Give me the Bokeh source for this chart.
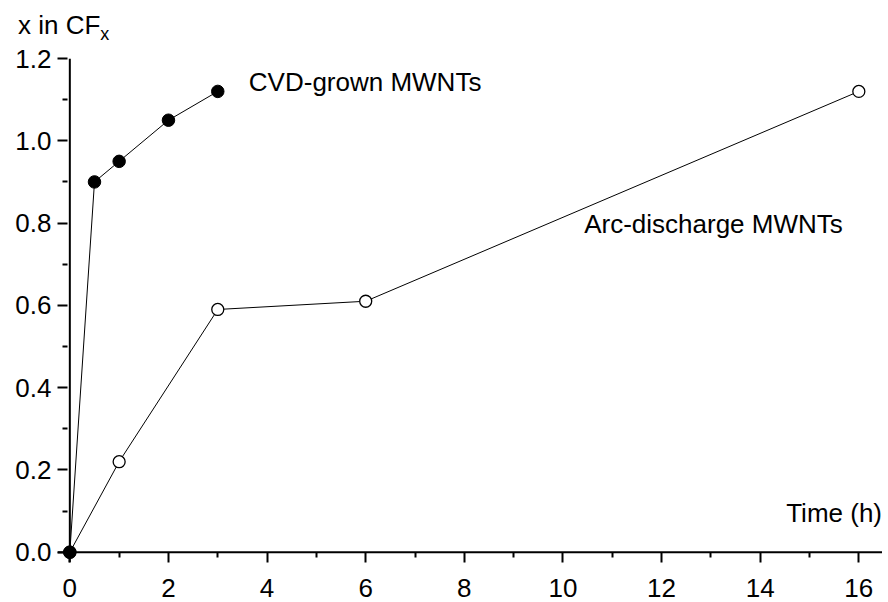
from bokeh.plotting import figure
from bokeh.models import Range1d, Label, FixedTicker, Span, Div, CustomJSTickFormatter
from bokeh.layouts import column
from bokeh.embed import file_html
from bokeh.resources import INLINE

cvd_time = [0, 0.5, 1, 2, 3]
cvd_x = [0.0, 0.90, 0.95, 1.05, 1.12]
arc_time = [0, 1, 3, 6, 16]
arc_x = [0.0, 0.22, 0.59, 0.61, 1.12]

x_ticks = [0, 2, 4, 6, 8, 10, 12, 14, 16]
y_ticks = [0.0, 0.2, 0.4, 0.6, 0.8, 1.0, 1.2]
x_minor = [1, 3, 5, 7, 9, 11, 13, 15]
y_minor = [0.1, 0.3, 0.5, 0.7, 0.9, 1.1]

FONT = "Liberation Sans"
DIV_H = 42

title = Div(text='<div style="padding:11px 0 0 18px; font-family:\'Liberation Sans\'; '
                 'font-size:26px; line-height:1.1; color:black; white-space:nowrap">'
                 'x in CF<sub style="font-size:18px; line-height:0">x</sub></div>',
            width=300, height=DIV_H, margin=(0, 0, 0, 0))

p = figure(width=882, height=602 - DIV_H, output_backend="svg", toolbar_location=None,
           x_range=Range1d(-0.25, 16.48), y_range=Range1d(-0.025, 1.2),
           min_border_left=57, min_border_right=0, min_border_top=58 - DIV_H,
           min_border_bottom=40, margin=(0, 0, 0, 0))
p.outline_line_color = None
p.xgrid.visible = False
p.ygrid.visible = False
p.background_fill_color = "white"
p.border_fill_color = "white"

for ax in (p.xaxis, p.yaxis):
    ax.axis_line_color = None
    ax.major_tick_line_width = 2
    ax.minor_tick_line_width = 2
    ax.major_tick_line_color = "black"
    ax.minor_tick_line_color = "black"
    ax.major_tick_out = 0
    ax.major_tick_in = 10
    ax.minor_tick_out = -5
    ax.minor_tick_in = 10
    ax.major_label_text_font = FONT
    ax.major_label_text_font_size = "26px"
    ax.major_label_text_color = "black"

p.xaxis.major_label_standoff = 16
p.yaxis.major_label_standoff = 6
p.xaxis.ticker = FixedTicker(ticks=x_ticks, minor_ticks=x_minor)
p.yaxis.ticker = FixedTicker(ticks=y_ticks, minor_ticks=y_minor)
p.yaxis.formatter = CustomJSTickFormatter(code="return tick.toFixed(1);")

p.add_layout(Span(location=0, dimension="width", line_color="black", line_width=2))
p.add_layout(Span(location=0, dimension="height", line_color="black", line_width=2))

p.line(arc_time, arc_x, line_color="black", line_width=1)
p.scatter(arc_time, arc_x, marker="circle", size=12, fill_color="white",
          line_color="black", line_width=1.3)
p.line(cvd_time, cvd_x, line_color="black", line_width=1)
p.scatter(cvd_time, cvd_x, marker="circle", size=12.5, fill_color="black",
          line_color="black")

p.add_layout(Label(x=3.63, y=1.106, text="CVD-grown MWNTs", text_font=FONT,
                   text_font_size="26px", text_color="black"))
p.add_layout(Label(x=10.43, y=0.761, text="Arc-discharge MWNTs", text_font=FONT,
                   text_font_size="26px", text_color="black"))
p.add_layout(Label(x=16.47, y=0.058, text="Time (h)", text_font=FONT,
                   text_font_size="26px", text_align="right", text_color="black"))

open("out.html", "w").write(file_html(column(title, p, spacing=0), INLINE))
